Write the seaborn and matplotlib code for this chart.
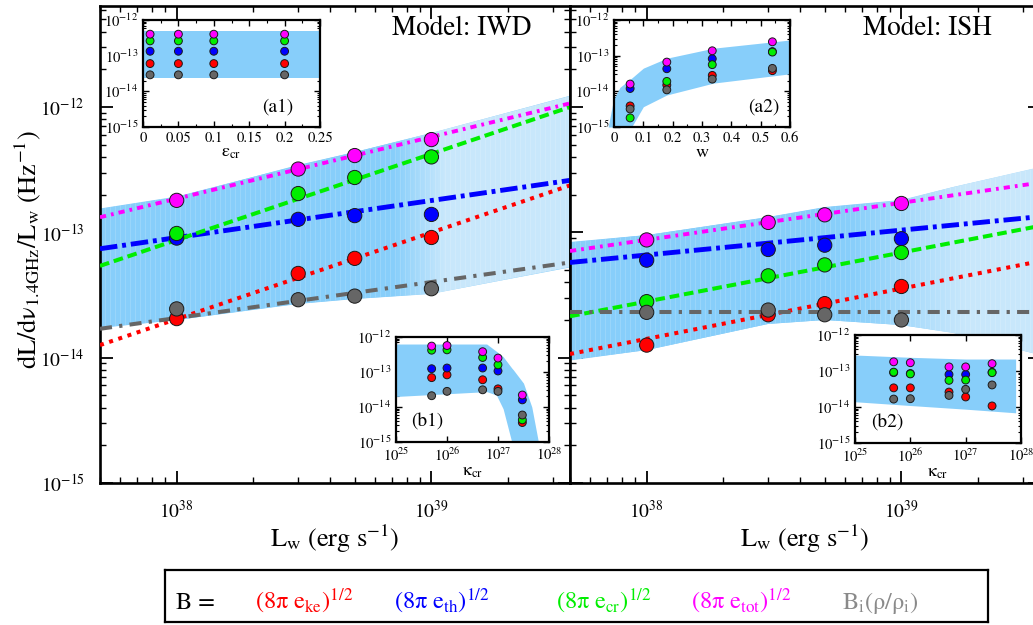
import numpy as np
import pandas as pd
import matplotlib
matplotlib.use("Agg")
import matplotlib.pyplot as plt
import matplotlib.ticker as mticker
from matplotlib.colors import LinearSegmentedColormap
import seaborn as sns

# ---------------- data ----------------
series_order = ["ke", "th", "cr", "tot", "bi"]
series_colors = {"ke": "#ff0000", "th": "#0000ff", "cr": "#00ee00",
                 "tot": "#ff00ff", "bi": "#666666"}

# wind luminosity of the simulated runs (erg/s)
lw_runs = [1e38, 3e38, 5e38, 1e39]

# Model IWD: dL/dnu(1.4 GHz)/L_w for each field prescription
iwd_ke = [2.05e-14, 4.7e-14, 6.2e-14, 9.1e-14]
iwd_th = [9.0e-14, 1.27e-13, 1.36e-13, 1.39e-13]
iwd_cr = [9.8e-14, 2.04e-13, 2.74e-13, 4.0e-13]
iwd_tot = [1.8e-13, 3.2e-13, 4.1e-13, 5.5e-13]
iwd_bi = [2.45e-14, 2.9e-14, 3.1e-14, 3.55e-14]

# Model ISH
ish_ke = [1.26e-14, 2.2e-14, 2.7e-14, 3.7e-14]
ish_th = [6.0e-14, 7.3e-14, 7.9e-14, 8.9e-14]
ish_cr = [2.8e-14, 4.5e-14, 5.5e-14, 6.9e-14]
ish_tot = [8.7e-14, 1.2e-13, 1.38e-13, 1.7e-13]
ish_bi = [2.3e-14, 2.4e-14, 2.2e-14, 2.0e-14]

# power-law fits (values at the two ends of the L_w range)
iwd_fit_lw = [5e37, 3.5e39]
iwd_fit_ke = [1.26e-14, 2.37e-13]
iwd_fit_th = [7.4e-14, 2.6e-13]
iwd_fit_cr = [5.4e-14, 1.0e-12]
iwd_fit_tot = [1.32e-13, 1.07e-12]
iwd_fit_bi = [1.7e-14, 5.75e-14]

ish_fit_lw = [5e37, 3.3e39]
ish_fit_ke = [1.07e-14, 5.75e-14]
ish_fit_th = [5.75e-14, 1.32e-13]
ish_fit_cr = [2.14e-14, 1.1e-13]
ish_fit_tot = [7.1e-14, 2.45e-13]
ish_fit_bi = [2.3e-14, 2.3e-14]

# allowed range (shaded band)
iwd_band_lw = [5e37, 1e38, 3e38, 5e38, 1e39, 3.5e39]
iwd_band_lo = [1.74e-14, 2.0e-14, 2.7e-14, 2.95e-14, 3.24e-14, 5.25e-14]
iwd_band_hi = [1.55e-13, 1.93e-13, 3.42e-13, 4.37e-13, 6.2e-13, 1.23e-12]

ish_band_lw = [5e37, 1e38, 3e38, 5e38, 1e39, 1.6e39, 3.5e39]
ish_band_lo = [9.5e-15, 1.15e-14, 1.86e-14, 2.0e-14, 1.82e-14, 1.58e-14, 1.05e-14]
ish_band_hi = [8.3e-14, 9.5e-14, 1.32e-13, 1.58e-13, 1.8e-13, 2.3e-13, 3.3e-13]

# inset (a1): dependence on epsilon_cr, model IWD
a1_eps = [0.01, 0.05, 0.1, 0.2]
a1_ke = [6.0e-14] * 4
a1_th = [1.33e-13] * 4
a1_cr = [2.6e-13] * 4
a1_tot = [4.0e-13] * 4
a1_bi = [2.9e-14] * 4
a1_band_eps = [0.0, 0.25]
a1_band_lo = [2.3e-14, 2.3e-14]
a1_band_hi = [5.0e-13, 5.0e-13]

# inset (a2): dependence on w, model ISH
a2_w = [0.055, 0.18, 0.335, 0.54]
a2_ke = [3.9e-15, 1.5e-14, 2.8e-14, 3.8e-14]
a2_th = [1.2e-14, 4.3e-14, 8.2e-14, 1.3e-13]
a2_cr = [1.8e-15, 1.9e-14, 5.6e-14, 1.26e-13]
a2_tot = [1.6e-14, 6.6e-14, 1.37e-13, 2.45e-13]
a2_bi = [3.2e-15, 1.1e-14, 2.2e-14, 4.4e-14]
a2_band_w = [-0.02, -0.002, 0.02, 0.055, 0.06, 0.10, 0.18, 0.339, 0.6]
a2_band_lo = [1e-15, 1e-15, 1e-15, 1e-15, 1e-15, 3.7e-15, 7.9e-15, 1.7e-14, 3.1e-14]
a2_band_hi = [1e-15, 5.75e-15, 1.29e-14, 2.19e-14, 2.34e-14, 4.47e-14, 8.5e-14, 1.62e-13, 2.75e-13]

# insets (b1, b2): dependence on kappa_cr
kappa = [5e25, 1e26, 5e26, 1e27, 3e27]
b1_ke = [6.9e-14, 8.3e-14, 6.0e-14, 3.3e-14, 3.6e-15]
b1_th = [1.24e-13, 1.3e-13, 1.3e-13, 1.07e-13, 1.6e-14]
b1_cr = [4.2e-13, 4.3e-13, 2.6e-13, 1.6e-13, 4.3e-15]
b1_tot = [5.5e-13, 5.7e-13, 3.8e-13, 2.5e-13, 2.2e-14]
b1_bi = [2.1e-14, 2.8e-14, 3.1e-14, 2.8e-14, 5.9e-15]
b1_band_k = [1e25, 6e26, 9.3e26, 1.26e27, 1.86e27, 2e27, 3.16e27, 4.6e27, 6.2e27]
b1_band_lo = [2.0e-14, 2.75e-14, 2.2e-14, 8.9e-15, 1e-15, 1e-15, 1e-15, 1e-15, 1e-15]
b1_band_hi = [6.3e-13, 6.3e-13, 3.9e-13, 2.75e-13, 1.3e-13, 1.15e-13, 4.8e-14, 1.0e-14, 1e-15]

b2_ke = [3.4e-14, 3.4e-14, 2.6e-14, 1.9e-14, 1.07e-14]
b2_th = [9.0e-14, 8.5e-14, 8.0e-14, 8.0e-14, 9.2e-14]
b2_cr = [9.3e-14, 8.3e-14, 5.5e-14, 5.6e-14, 9.0e-14]
b2_tot = [1.8e-13, 1.7e-13, 1.3e-13, 1.3e-13, 1.6e-13]
b2_bi = [1.66e-14, 1.7e-14, 2.1e-14, 3.1e-14, 4.1e-14]
b2_band_k = [1e25, 1e26, 1e27, 8e27]
b2_band_lo = [1.4e-14, 1.1e-14, 8.7e-15, 6.9e-15]
b2_band_hi = [2.78e-13, 2.4e-13, 2.15e-13, 2.15e-13]

main_yticks = [1e-15, 1e-14, 1e-13, 1e-12]
main_xticks = [1e38, 1e39]
inset_yticks = [1e-15, 1e-14, 1e-13, 1e-12]
kappa_ticks = [1e25, 1e26, 1e27, 1e28]

legend_labels = {
    "ke": r"$\mathrm{(8\pi\ e_{ke})^{1/2}}$",
    "th": r"$\mathrm{(8\pi\ e_{th})^{1/2}}$",
    "cr": r"$\mathrm{(8\pi\ e_{cr})^{1/2}}$",
    "tot": r"$\mathrm{(8\pi\ e_{tot})^{1/2}}$",
    "bi": r"$\mathrm{B_i(\rho/\rho_i)}$",
}

# ---------------- style ----------------
sns.set_theme(style="ticks")
plt.rcParams.update({
    "font.family": ["STIXGeneral", "DejaVu Serif"],
    "mathtext.fontset": "stix",
    "axes.edgecolor": "black",
    "xtick.color": "black",
    "ytick.color": "black",
    "text.color": "black",
    "axes.labelcolor": "black",
})

line_styles = {
    "ke": dict(lw=2.9, linestyle=(0, (1.0, 1.4))),
    "th": dict(lw=3.5, linestyle=(0, (3.6, 1.0, 0.8, 1.0))),
    "cr": dict(lw=2.9, linestyle=(0, (2.4, 1.2))),
    "tot": dict(lw=2.8, linestyle=(0, (1.6, 1.3, 0.7, 1.3))),
    "bi": dict(lw=2.9, linestyle=(0, (3.0, 1.8, 0.8, 1.8))),
}

BAND = "#87cefa"
BAND_LIGHT = "#c8e7fb"

W, H = 1033, 625
fig = plt.figure(figsize=(W / 100, H / 100), dpi=100)


def frac(x0, y0, x1, y1):
    return [x0 / W, 1 - y1 / H, (x1 - x0) / W, (y1 - y0) / H]


def draw_points(ax, x, values, s):
    rows = []
    for key in series_order:
        for xi, yi in zip(x, values[key]):
            rows.append({"x": xi, "y": yi, "series": key})
    df = pd.DataFrame(rows)
    sns.scatterplot(data=df, x="x", y="y", hue="series", palette=series_colors,
                    s=s, edgecolor="#1a1a1a", linewidth=0.7, legend=False,
                    ax=ax, zorder=5, clip_on=False)
    ax.set_xlabel("")
    ax.set_ylabel("")


def draw_fits(ax, x, fits):
    for key in series_order:
        sns.lineplot(x=x, y=fits[key], ax=ax, color=series_colors[key],
                     estimator=None, sort=False, zorder=3,
                     solid_capstyle="butt", **line_styles[key])


def draw_main_band(ax, x, lo, hi, fade):
    poly = ax.fill_between(x, lo, hi, facecolor=BAND, edgecolor="none",
                           linewidth=0, zorder=1)
    clip = poly.get_paths()[0]
    lx = np.log10(x)
    xs = np.logspace(lx[0], lx[-1], 300)
    t = np.clip((np.log10(xs[:-1]) - fade[0]) / (fade[1] - fade[0]), 0, 1)
    cmap = LinearSegmentedColormap.from_list("band", [BAND, BAND_LIGHT])
    ys = [min(lo) * 0.8, max(hi) * 1.2]
    mesh = ax.pcolormesh(xs, ys, t[None, :], cmap=cmap, vmin=0, vmax=1,
                         shading="flat", edgecolors="none", zorder=1.1)
    mesh.set_clip_path(clip, ax.transData)
    # faint vertical striping of the band
    sx = np.logspace(lx[0], lx[-1], 95)
    vl = ax.vlines(sx, ys[0], ys[1], colors="white", alpha=0.16,
                   linewidth=0.7, zorder=1.2)
    vl.set_clip_path(clip, ax.transData)


def style_main(ax, show_ylabels):
    ax.set_xscale("log")
    ax.set_yscale("log")
    ax.set_xlim(5e37, 3.5e39)
    ax.set_ylim(1e-15, 6.4e-12)
    for sp in ax.spines.values():
        sp.set_linewidth(1.9)
        sp.set_visible(True)
    ax.xaxis.set_major_locator(mticker.FixedLocator(main_xticks))
    ax.xaxis.set_minor_locator(mticker.LogLocator(base=10, subs=np.arange(2, 10)))
    ax.yaxis.set_major_locator(mticker.FixedLocator(main_yticks))
    ax.yaxis.set_minor_locator(mticker.LogLocator(base=10, subs=np.arange(2, 10)))
    ax.xaxis.set_major_formatter(mticker.LogFormatterSciNotation())
    ax.yaxis.set_major_formatter(mticker.LogFormatterSciNotation())
    ax.xaxis.set_minor_formatter(mticker.NullFormatter())
    ax.yaxis.set_minor_formatter(mticker.NullFormatter())
    ax.tick_params(which="both", direction="in", top=True, right=True,
                   labelsize=14)
    ax.tick_params(which="major", length=9, width=1.3)
    ax.tick_params(which="minor", length=4.5, width=1.0)
    ax.tick_params(axis="x", which="major", pad=12)
    ax.tick_params(axis="y", which="major", pad=11)
    if not show_ylabels:
        ax.tick_params(axis="y", labelleft=False)
    ax.set_xlabel(r"$\mathrm{L_w\ (erg\ s^{-1})}$", fontsize=19, labelpad=1)
    ax.set_facecolor("white")


def style_inset(ax, xlog, xlim, major=None, minor=None):
    ax.set_yscale("log")
    ax.set_ylim(1e-15, 1e-12)
    if xlog:
        ax.set_xscale("log")
        ax.xaxis.set_major_locator(mticker.FixedLocator(kappa_ticks))
        ax.xaxis.set_minor_locator(mticker.LogLocator(base=10, subs=np.arange(2, 10)))
        ax.xaxis.set_major_formatter(mticker.LogFormatterSciNotation())
        ax.xaxis.set_minor_formatter(mticker.NullFormatter())
    else:
        ax.xaxis.set_major_locator(mticker.MultipleLocator(major))
        ax.xaxis.set_minor_locator(mticker.MultipleLocator(minor))
        ax.xaxis.set_major_formatter(mticker.FuncFormatter(lambda v, p: "%g" % round(v, 3)))
    ax.set_xlim(*xlim)
    ax.yaxis.set_major_locator(mticker.FixedLocator(inset_yticks))
    ax.yaxis.set_minor_locator(mticker.LogLocator(base=10, subs=np.arange(2, 10)))
    ax.yaxis.set_major_formatter(mticker.LogFormatterSciNotation())
    ax.yaxis.set_minor_formatter(mticker.NullFormatter())
    for sp in ax.spines.values():
        sp.set_linewidth(1.6)
        sp.set_visible(True)
    ax.tick_params(which="both", direction="in", top=True, right=True,
                   labelsize=10.5)
    ax.tick_params(axis="x", which="major", pad=3.5)
    ax.tick_params(axis="y", which="major", pad=3.5)
    ax.tick_params(which="major", length=4.5, width=1.0)
    ax.tick_params(which="minor", length=2.3, width=0.8)
    ax.set_facecolor("white")


# ---------------- main panels ----------------
ax1 = fig.add_axes(frac(100, 6, 570, 483))
ax2 = fig.add_axes(frac(570, 6, 1040, 483))

for ax in (ax1, ax2):
    ax.set_xscale("log")
    ax.set_yscale("log")

draw_main_band(ax1, iwd_band_lw, iwd_band_lo, iwd_band_hi, fade=(38.85, 39.05))
draw_main_band(ax2, ish_band_lw, ish_band_lo, ish_band_hi, fade=(38.8, 39.25))

draw_fits(ax1, iwd_fit_lw, {"ke": iwd_fit_ke, "th": iwd_fit_th, "cr": iwd_fit_cr,
                            "tot": iwd_fit_tot, "bi": iwd_fit_bi})
draw_fits(ax2, ish_fit_lw, {"ke": ish_fit_ke, "th": ish_fit_th, "cr": ish_fit_cr,
                            "tot": ish_fit_tot, "bi": ish_fit_bi})

draw_points(ax1, lw_runs, {"ke": iwd_ke, "th": iwd_th, "cr": iwd_cr,
                           "tot": iwd_tot, "bi": iwd_bi}, s=105)
draw_points(ax2, lw_runs, {"ke": ish_ke, "th": ish_th, "cr": ish_cr,
                           "tot": ish_tot, "bi": ish_bi}, s=105)

style_main(ax1, True)
style_main(ax2, False)

ax1.text(0.622, 0.952, "Model: IWD", transform=ax1.transAxes, ha="left",
         va="center", fontsize=19.5)
ax2.text(0.624, 0.952, "Model: ISH", transform=ax2.transAxes, ha="left",
         va="center", fontsize=19.5)

fig.text(28 / W, 1 - 250 / H, r"$\mathrm{dL/d\nu_{1.4GHz}/L_w\ (Hz^{-1})}$",
         rotation=90, ha="center", va="center", fontsize=19)

# ---------------- insets ----------------
a1 = fig.add_axes(frac(143, 20, 320, 127))
a1.fill_between(a1_band_eps, a1_band_lo, a1_band_hi, color=BAND, lw=0, zorder=1)
draw_points(a1, a1_eps, {"ke": a1_ke, "th": a1_th, "cr": a1_cr,
                         "tot": a1_tot, "bi": a1_bi}, s=32)
style_inset(a1, False, (0, 0.25), 0.05, 0.025)
a1.set_xlabel(r"$\mathrm{\varepsilon_{cr}}$", fontsize=13, labelpad=0)
a1.text(0.85, 0.19, "(a1)", transform=a1.transAxes, ha="right", va="center",
        fontsize=14)

a2 = fig.add_axes(frac(614, 20, 790, 127))
a2.fill_between(a2_band_w, a2_band_lo, a2_band_hi, color=BAND, lw=0, zorder=1,
                clip_on=False)
draw_points(a2, a2_w, {"ke": a2_ke, "th": a2_th, "cr": a2_cr,
                       "tot": a2_tot, "bi": a2_bi}, s=32)
style_inset(a2, False, (0, 0.6), 0.1, 0.05)
a2.set_xlabel(r"$\mathrm{w}$", fontsize=13, labelpad=0)
a2.text(0.94, 0.19, "(a2)", transform=a2.transAxes, ha="right", va="center",
        fontsize=14)

b1 = fig.add_axes(frac(396, 337, 549, 442))
b1.fill_between(b1_band_k, b1_band_lo, b1_band_hi, color=BAND, lw=0, zorder=1)
draw_points(b1, kappa, {"ke": b1_ke, "th": b1_th, "cr": b1_cr,
                        "tot": b1_tot, "bi": b1_bi}, s=32)
style_inset(b1, True, (1e25, 1e28))
b1.set_xlabel(r"$\mathrm{\kappa_{cr}}$", fontsize=13, labelpad=0)
b1.text(0.10, 0.19, "(b1)", transform=b1.transAxes, ha="left", va="center",
        fontsize=14)

b2 = fig.add_axes(frac(855, 335, 1021, 443))
b2.fill_between(b2_band_k, b2_band_lo, b2_band_hi, color=BAND, lw=0, zorder=1)
draw_points(b2, kappa, {"ke": b2_ke, "th": b2_th, "cr": b2_cr,
                        "tot": b2_tot, "bi": b2_bi}, s=32)
style_inset(b2, True, (1e25, 1e28))
b2.set_xlabel(r"$\mathrm{\kappa_{cr}}$", fontsize=13, labelpad=0)
b2.text(0.10, 0.19, "(b2)", transform=b2.transAxes, ha="left", va="center",
        fontsize=14)

# ---------------- colour key ----------------
lax = fig.add_axes(frac(165, 570, 988, 622))
lax.set_xticks([])
lax.set_yticks([])
lax.set_xlim(0, 1)
lax.set_ylim(0, 1)
for sp in lax.spines.values():
    sp.set_linewidth(1.6)
    sp.set_visible(True)
lax.text(0.013, 0.25, "B =", fontsize=17.5, ha="left", va="baseline")
key_x = {"ke": 0.109, "th": 0.278, "cr": 0.475, "tot": 0.639, "bi": 0.823}
for key in series_order:
    lax.text(key_x[key], 0.25, legend_labels[key], fontsize=17.5, ha="left",
             va="baseline", color=series_colors[key] if key != "bi" else "#8a8a8a")

fig.savefig("out.png", dpi=100)
